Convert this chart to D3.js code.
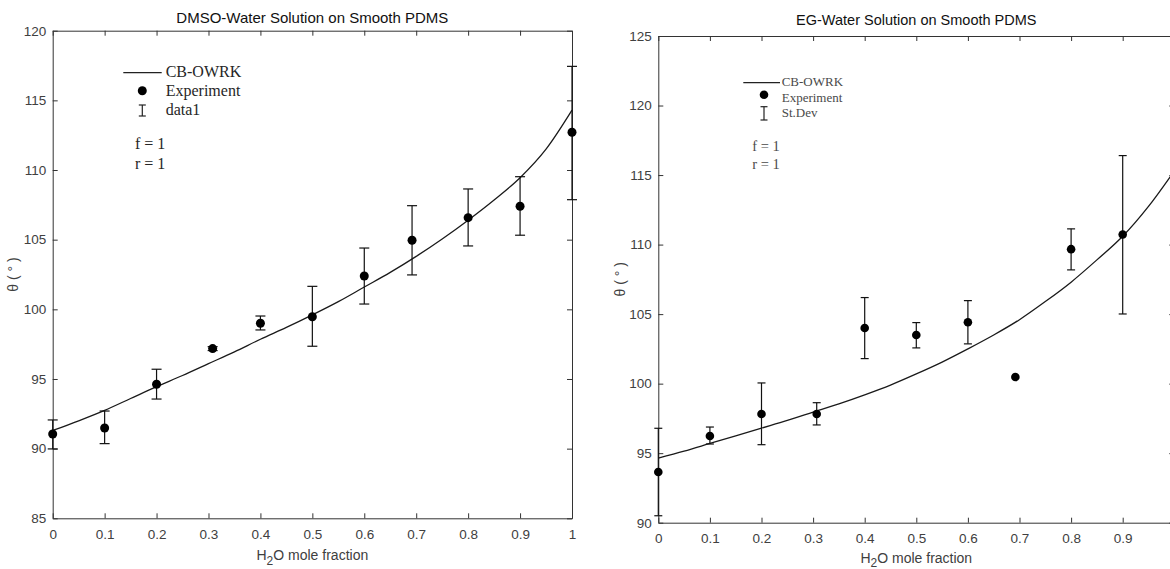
<!DOCTYPE html>
<html><head><meta charset="utf-8">
<script src="https://cdn.jsdelivr.net/npm/d3@7"></script>
<style>body{margin:0;background:#fff}svg{display:block}</style>
</head><body><svg id="c" width="1170" height="569"></svg>
<script>
// ---------- data ----------
const xTickValues = [0, 0.1, 0.2, 0.3, 0.4, 0.5, 0.6, 0.7, 0.8, 0.9, 1];
const egXTickLabels = [0, 0.1, 0.2, 0.3, 0.4, 0.5, 0.6, 0.7, 0.8, 0.9];

// DMSO-water panel
const dmsoYTicks = [85, 90, 95, 100, 105, 110, 115, 120];
const dmsoX    = [0, 0.1, 0.2, 0.308, 0.4, 0.5, 0.6, 0.692, 0.8, 0.9, 1.0];
const dmsoMean = [91.05, 91.48, 94.62, 97.18, 99.0, 99.47, 102.39, 104.96, 106.58, 107.4, 112.71];
const dmsoHigh = [92.06, 92.7, 95.70, 97.32, 99.52, 101.65, 104.4, 107.44, 108.64, 109.52, 117.44];
const dmsoLow  = [89.98, 90.36, 93.56, 97.04, 98.52, 97.35, 100.38, 102.47, 104.55, 105.32, 107.87];
const dmsoModelX = [0, 0.05, 0.1, 0.15, 0.2, 0.25, 0.3, 0.35, 0.4, 0.45, 0.5, 0.55, 0.6, 0.65, 0.7, 0.75, 0.8, 0.85, 0.9, 0.95, 1.0];
const dmsoModelY = [91.3, 92.0, 92.75, 93.6, 94.45, 95.25, 96.1, 96.95, 97.85, 98.7, 99.6, 100.55, 101.6, 102.65, 103.8, 105.05, 106.4, 107.85, 109.45, 111.5, 114.3];

// EG-water panel
const egYTicks = [90, 95, 100, 105, 110, 115, 120, 125];
const egX    = [0, 0.1, 0.2, 0.307, 0.4, 0.5, 0.6, 0.692, 0.8, 0.9];
const egMean = [93.65, 96.24, 97.82, 97.82, 104.0, 103.5, 104.42, 100.48, 109.67, 110.72];
const egHigh = [96.79, 96.88, 100.05, 98.63, 106.19, 104.39, 105.97, null, 111.13, 116.4];
const egLow  = [90.5, 95.66, 95.61, 97.03, 101.8, 102.57, 102.86, null, 108.18, 105.01];
const egModelX = [0, 0.05, 0.1, 0.15, 0.2, 0.25, 0.3, 0.35, 0.4, 0.45, 0.5, 0.55, 0.6, 0.65, 0.7, 0.75, 0.8, 0.85, 0.9, 0.95, 1.0];
const egModelY = [94.65, 95.15, 95.7, 96.25, 96.8, 97.35, 97.95, 98.55, 99.2, 99.9, 100.7, 101.55, 102.5, 103.5, 104.6, 105.9, 107.3, 108.9, 110.6, 112.75, 115.3];

const legendLabelsLeft  = ["CB-OWRK", "Experiment", "data1"];
const legendLabelsRight = ["CB-OWRK", "Experiment", "St.Dev"];
const paramLines = ["f = 1", "r = 1"];

// ---------- drawing ----------
const svg = d3.select("#c");
const SANS = "'Liberation Sans', Arial, sans-serif";
const SERIF = "'Liberation Serif', 'Times New Roman', serif";
const AX = "#333";
const TXT = "#404040";

function panel(o) {
  const g = svg.append("g");
  const x = d3.scaleLinear().domain([0, 1]).range([o.left, o.right]);
  const y = d3.scaleLinear().domain([o.yTicks[0], o.yTicks[o.yTicks.length - 1]]).range([o.bottom, o.top]);

  const styleAxis = sel => {
    sel.selectAll("path").attr("stroke", AX).attr("stroke-width", 1);
    sel.selectAll("line").attr("stroke", AX).attr("stroke-width", 1);
    sel.selectAll("text").attr("fill", TXT).style("font-family", SANS).style("font-size", "13.5px");
  };
  const fmt = d3.format("~g");

  // bottom ticks (all) and labels (only those in view)
  g.append("g").attr("transform", `translate(0,${o.bottom})`)
    .call(d3.axisBottom(x).tickValues(xTickValues).tickFormat("").tickSizeInner(-5).tickSizeOuter(0))
    .call(styleAxis);
  g.append("g").attr("transform", `translate(0,${o.bottom})`)
    .call(d3.axisBottom(x).tickValues(o.xLabels).tickFormat(fmt).tickSizeInner(0).tickSizeOuter(0).tickPadding(11))
    .call(styleAxis).call(s => s.select(".domain").remove());
  g.append("g").attr("transform", `translate(0,${o.top})`)
    .call(d3.axisTop(x).tickValues(xTickValues).tickFormat("").tickSizeInner(-5).tickSizeOuter(0))
    .call(styleAxis);
  g.append("g").attr("transform", `translate(${o.left},0)`)
    .call(d3.axisLeft(y).tickValues(o.yTicks).tickFormat(fmt).tickSizeInner(-5).tickSizeOuter(0).tickPadding(6.5))
    .call(styleAxis);
  g.append("g").attr("transform", `translate(${o.right},0)`)
    .call(d3.axisRight(y).tickValues(o.yTicks).tickFormat("").tickSizeInner(-5).tickSizeOuter(0))
    .call(styleAxis);

  // title
  g.append("text").attr("x", (o.left + o.right) / 2).attr("y", o.titleY)
    .attr("text-anchor", "middle").style("font-family", SANS).style("font-size", o.titleSize + "px")
    .attr("fill", "#111").text(o.title);

  // x label with subscript
  const xl = g.append("text").attr("x", (o.left + o.right) / 2).attr("y", o.xLabelY)
    .attr("text-anchor", "middle").style("font-family", SANS).style("font-size", "14px").attr("fill", TXT);
  xl.append("tspan").text("H");
  xl.append("tspan").attr("dy", 4.5).style("font-size", "12px").text("2");
  xl.append("tspan").attr("dy", -4.5).text("O mole fraction");

  // y label
  g.append("text").attr("transform", `translate(${o.yLabelX},${(o.top + o.bottom) / 2}) rotate(-90)`)
    .attr("text-anchor", "middle").attr("dy", "0.35em").style("font-family", SANS).style("font-size", "14px")
    .attr("fill", TXT).text("θ ( ° )");

  // model curve
  const line = d3.line().x((d, i) => x(o.modelX[i])).y(d => y(d)).curve(d3.curveMonotoneX);
  g.append("path").datum(o.modelY).attr("d", line).attr("fill", "none")
    .attr("stroke", "#1a1a1a").attr("stroke-width", 1.3);

  // error bars
  const eb = o.xs.map((v, i) => ({ x: v, hi: o.high[i], lo: o.low[i] })).filter(d => d.hi != null);
  const ebG = g.append("g").attr("stroke", "#111").attr("stroke-width", 1.2);
  eb.forEach(d => {
    ebG.append("line").attr("x1", x(d.x)).attr("x2", x(d.x)).attr("y1", y(d.hi)).attr("y2", y(d.lo));
    ebG.append("line").attr("x1", x(d.x) - o.cap).attr("x2", x(d.x) + o.cap).attr("y1", y(d.hi)).attr("y2", y(d.hi));
    ebG.append("line").attr("x1", x(d.x) - o.cap).attr("x2", x(d.x) + o.cap).attr("y1", y(d.lo)).attr("y2", y(d.lo));
  });

  // markers
  g.append("g").selectAll("circle").data(o.mean).join("circle")
    .attr("cx", (d, i) => x(o.xs[i])).attr("cy", d => y(d)).attr("r", o.r).attr("fill", "#000");

  // legend
  const L = o.legend;
  const lg = g.append("g").style("font-family", SERIF).style("font-size", L.size + "px").attr("fill", L.color);
  lg.append("line").attr("x1", L.lineX1).attr("x2", L.lineX2).attr("y1", L.rowY[0]).attr("y2", L.rowY[0])
    .attr("stroke", "#222").attr("stroke-width", 1.3);
  lg.append("circle").attr("cx", L.iconX).attr("cy", L.rowY[1]).attr("r", o.r).attr("fill", "#000");
  const eg = lg.append("g").attr("stroke", "#222").attr("stroke-width", 1.2);
  eg.append("line").attr("x1", L.iconX).attr("x2", L.iconX).attr("y1", L.ebTop).attr("y2", L.ebBot);
  eg.append("line").attr("x1", L.iconX - 3.5).attr("x2", L.iconX + 3.5).attr("y1", L.ebTop).attr("y2", L.ebTop);
  eg.append("line").attr("x1", L.iconX - 3.5).attr("x2", L.iconX + 3.5).attr("y1", L.ebBot).attr("y2", L.ebBot);
  L.labels.forEach((t, i) => {
    lg.append("text").attr("x", L.textX).attr("y", L.baselines[i]).text(t);
  });
  paramLines.forEach((t, i) => {
    g.append("text").attr("x", L.paramX).attr("y", L.paramY[i]).style("font-family", SERIF)
      .style("font-size", L.paramSize + "px").attr("fill", L.color).text(t);
  });
}

panel({
  left: 52.7, right: 572, top: 30.7, bottom: 518.3, yTicks: dmsoYTicks, xLabels: xTickValues,
  xs: dmsoX, mean: dmsoMean, high: dmsoHigh, low: dmsoLow, modelX: dmsoModelX, modelY: dmsoModelY,
  title: "DMSO-Water Solution on Smooth PDMS", titleY: 22.5, titleSize: 15,
  xLabelY: 560, yLabelX: 13, cap: 5, r: 4.5,
  legend: {
    size: 16, color: "#262626", lineX1: 123.3, lineX2: 161.7, iconX: 142.3, textX: 165.7,
    rowY: [72.7, 90.7], ebTop: 105, ebBot: 116, baselines: [77, 96, 115],
    labels: legendLabelsLeft, paramX: 135, paramY: [149.3, 169.3], paramSize: 16
  }
});

panel({
  left: 658.3, right: 1174.3, top: 36, bottom: 522.7, yTicks: egYTicks, xLabels: egXTickLabels,
  xs: egX, mean: egMean, high: egHigh, low: egLow, modelX: egModelX, modelY: egModelY,
  title: "EG-Water Solution on Smooth PDMS", titleY: 25, titleSize: 14.5,
  xLabelY: 562.5, yLabelX: 620.5, cap: 4, r: 4.3,
  legend: {
    size: 13, color: "#4a4a4a", lineX1: 743.3, lineX2: 780, iconX: 764, textX: 781.7,
    rowY: [82.7, 94.7], ebTop: 106.7, ebBot: 120, baselines: [86.2, 101.5, 117],
    labels: legendLabelsRight, paramX: 752.3, paramY: [150.5, 168.5], paramSize: 14.5
  }
});
</script>
</body></html>
